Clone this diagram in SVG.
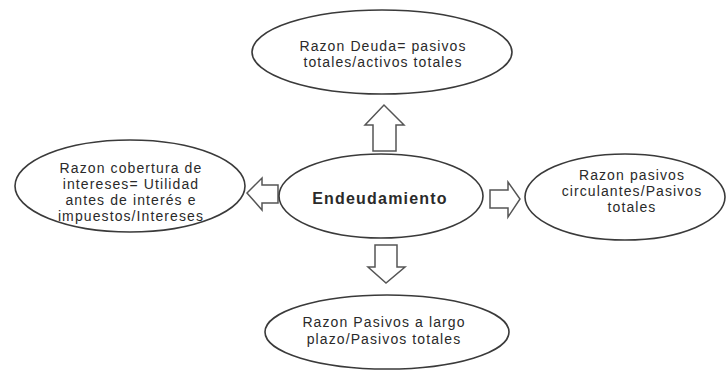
<svg xmlns="http://www.w3.org/2000/svg" width="726" height="371" viewBox="0 0 726 371">
<style>
.node ellipse{fill:#fff;stroke:#3a3a3a;stroke-width:1.6}
.node text{font-family:"Liberation Sans",Arial,sans-serif;font-size:14px;fill:#2a2a2a;text-anchor:middle;letter-spacing:1.1px}
.node text.main{font-size:16px;font-weight:bold;letter-spacing:1.2px}
.arrow{fill:#fff;stroke:#555;stroke-width:1.5;stroke-linejoin:miter}
</style>
<rect width="726" height="371" fill="#fff"/>
<g id="connectors">
<polygon class="arrow" points="373,151 373,125 365,125 384,105 404,125 396,125 396,151"/>
<polygon class="arrow" points="375,245 397,245 397,267 405,267 386,283 368,267 375,267"/>
<polygon class="arrow" points="278,185 278,203 262,203 262,210 247,193 262,178 262,185"/>
<polygon class="arrow" points="490,190 508,190 508,182 520,199 508,217 508,208 490,208"/>
</g>
<g id="n-top" class="node">
<ellipse cx="382" cy="52" rx="130" ry="42"/>
<text x="383" y="51">Razon Deuda= pasivos</text>
<text x="383" y="67">totales/activos totales</text>
</g>
<g id="n-center" class="node">
<ellipse cx="381" cy="196" rx="102" ry="42"/>
<text class="main" x="380" y="204">Endeudamiento</text>
</g>
<g id="n-left" class="node">
<ellipse cx="130" cy="186" rx="115" ry="46"/>
<text x="131" y="173">Razon cobertura de</text>
<text x="131" y="189">intereses= Utilidad</text>
<text x="131" y="205">antes de interés e</text>
<text x="131" y="221">impuestos/Intereses</text>
</g>
<g id="n-right" class="node">
<ellipse cx="625" cy="197" rx="100" ry="43"/>
<text x="632" y="180">Razon pasivos</text>
<text x="632" y="196">circulantes/Pasivos</text>
<text x="632" y="212">totales</text>
</g>
<g id="n-bottom" class="node">
<ellipse cx="387" cy="332" rx="122" ry="37"/>
<text x="384" y="327">Razon Pasivos a largo</text>
<text x="384" y="344">plazo/Pasivos totales</text>
</g>
</svg>
